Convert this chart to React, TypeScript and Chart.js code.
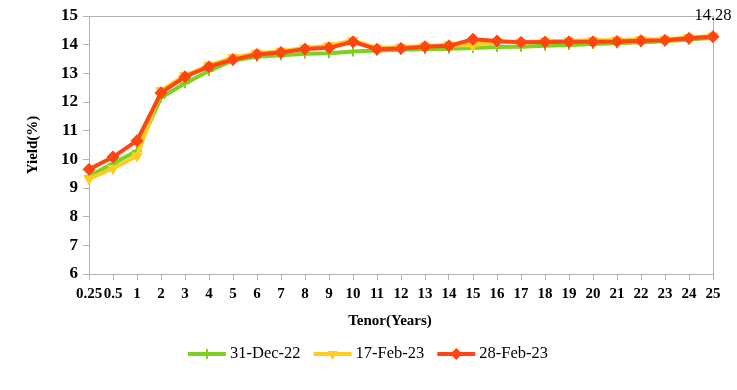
import React, { useEffect, useRef } from "react";
import { Chart, registerables } from "chart.js";

Chart.register(...registerables);

const tenors = ["0.25", "0.5", "1", "2", "3", "4", "5", "6", "7", "8", "9", "10", "11", "12", "13", "14", "15", "16", "17", "18", "19", "20", "21", "22", "23", "24", "25"];
const yTicks = [6, 7, 8, 9, 10, 11, 12, 13, 14, 15];

const dec31 = [9.42, 9.85, 10.3, 12.15, 12.65, 13.08, 13.45, 13.58, 13.63, 13.68, 13.7, 13.76, 13.8, 13.82, 13.84, 13.86, 13.88, 13.92, 13.93, 13.96, 13.99, 14.02, 14.05, 14.08, 14.12, 14.18, 14.24];
const feb17 = [9.32, 9.68, 10.12, 12.4, 12.92, 13.28, 13.55, 13.7, 13.77, 13.88, 13.96, 14.15, 13.88, 13.91, 13.95, 13.99, 13.98, 14.1, 14.07, 14.13, 14.13, 14.15, 14.16, 14.18, 14.19, 14.25, 14.3];
const feb28 = [9.65, 10.08, 10.65, 12.32, 12.88, 13.23, 13.48, 13.66, 13.73, 13.85, 13.89, 14.1, 13.84, 13.87, 13.93, 13.96, 14.19, 14.13, 14.08, 14.09, 14.1, 14.1, 14.11, 14.14, 14.15, 14.22, 14.28];

const seriesNames = ["31-Dec-22", "17-Feb-23", "28-Feb-23"];
const GREEN = "#80D022";
const YELLOW = "#FFCC22";
const RED = "#FF4612";
const AXIS = "#B3B3B3";
const FONT = "'Liberation Serif', 'Times New Roman', serif";

function drawMarker(ctx: CanvasRenderingContext2D, kind: string, x: number, y: number, color: string) {
  ctx.save();
  ctx.fillStyle = color;
  ctx.strokeStyle = color;
  ctx.beginPath();
  if (kind === "diamond") {
    const r = 6;
    ctx.moveTo(x, y - r);
    ctx.lineTo(x + r, y);
    ctx.lineTo(x, y + r);
    ctx.lineTo(x - r, y);
    ctx.closePath();
    ctx.fill();
  } else if (kind === "triangle") {
    const r = 6;
    ctx.moveTo(x - r * 0.87, y - r * 0.5);
    ctx.lineTo(x + r * 0.87, y - r * 0.5);
    ctx.lineTo(x, y + r);
    ctx.closePath();
    ctx.fill();
  } else {
    ctx.lineWidth = 2;
    ctx.moveTo(x, y - 5);
    ctx.lineTo(x, y + 5);
    ctx.moveTo(x - 5, y);
    ctx.lineTo(x + 5, y);
    ctx.stroke();
  }
  ctx.restore();
}

const decorPlugin = {
  id: "decor",
  beforeDatasetsDraw(chart: any) {
    const { ctx, chartArea } = chart;
    ctx.save();
    ctx.strokeStyle = AXIS;
    ctx.lineWidth = 1;
    ctx.beginPath();
    ctx.moveTo(chartArea.left, chartArea.top + 0.5);
    ctx.lineTo(chartArea.right + 0.5, chartArea.top + 0.5);
    ctx.lineTo(chartArea.right + 0.5, chartArea.bottom);
    ctx.stroke();
    ctx.restore();
  },
  afterDatasetsDraw(chart: any) {
    const { ctx } = chart;
    const meta = chart.getDatasetMeta(2);
    const pt = meta.data[meta.data.length - 1];
    const val = feb28[feb28.length - 1];
    ctx.save();
    ctx.fillStyle = "#000";
    ctx.font = `16.5px ${FONT}`;
    ctx.textAlign = "center";
    ctx.textBaseline = "middle";
    ctx.fillText(val.toFixed(2), pt.x, pt.y - 21);
    ctx.restore();
  },
  afterDraw(chart: any) {
    const { ctx } = chart;
    ctx.save();
    ctx.fillStyle = "#000";
    ctx.font = `bold 15px ${FONT}`;
    ctx.textAlign = "center";
    ctx.textBaseline = "middle";
    ctx.fillText("Tenor(Years)", 390, 321);
    const kinds = ["cross", "triangle", "diamond"];
    const colors = [GREEN, YELLOW, RED];
    ctx.font = `16.5px ${FONT}`;
    ctx.textAlign = "left";
    let x = 188;
    const y = 354;
    for (let i = 0; i < seriesNames.length; i++) {
      ctx.strokeStyle = colors[i];
      ctx.lineWidth = 4;
      ctx.beginPath();
      ctx.moveTo(x, y);
      ctx.lineTo(x + 38, y);
      ctx.stroke();
      drawMarker(ctx, kinds[i], x + 19, y, colors[i]);
      ctx.fillStyle = "#000";
      ctx.fillText(seriesNames[i], x + 42, y);
      x += 42 + ctx.measureText(seriesNames[i]).width + 13;
    }
    ctx.restore();
  },
};

export default function App() {
  const canvasRef = useRef<HTMLCanvasElement | null>(null);

  useEffect(() => {
    if (!canvasRef.current) return;
    const chart = new Chart(canvasRef.current, {
      type: "line",
      data: {
        labels: tenors,
        datasets: [
          {
            label: seriesNames[0],
            data: dec31,
            borderColor: GREEN,
            backgroundColor: GREEN,
            borderWidth: 4,
            pointStyle: "cross",
            pointRadius: 5,
            pointBorderWidth: 2,
            pointBorderColor: GREEN,
            order: 2,
            clip: false,
          },
          {
            label: seriesNames[1],
            data: feb17,
            borderColor: YELLOW,
            backgroundColor: YELLOW,
            borderWidth: 4,
            pointStyle: "triangle",
            pointRotation: 180,
            pointRadius: 6,
            pointBorderWidth: 1,
            order: 1,
            clip: false,
          },
          {
            label: seriesNames[2],
            data: feb28,
            borderColor: RED,
            backgroundColor: RED,
            borderWidth: 4,
            pointStyle: "rectRot",
            pointRadius: 6,
            pointBorderWidth: 1,
            order: 0,
            clip: false,
          },
        ],
      },
      options: {
        responsive: false,
        animation: false,
        layout: { padding: { left: 0, right: 24, top: 16, bottom: 60 } },
        plugins: {
          legend: { display: false },
          tooltip: { enabled: false },
        },
        scales: {
          x: {
            type: "category",
            offset: false,
            grid: { display: true, drawOnChartArea: false, drawTicks: true, tickLength: 6, color: AXIS },
            border: { display: true, color: AXIS },
            ticks: {
              autoSkip: false,
              maxRotation: 0,
              minRotation: 0,
              padding: 5,
              color: "#000",
              font: { family: FONT, size: 15, weight: "bold" },
            },
            afterFit: (s: any) => {
              s.height = 56;
            },
          },
          y: {
            min: 6,
            max: 15,
            afterBuildTicks: (s: any) => {
              s.ticks = yTicks.map((v) => ({ value: v }));
            },
            grid: { display: true, drawOnChartArea: false, drawTicks: true, tickLength: 6, color: AXIS },
            border: { display: true, color: AXIS },
            ticks: {
              padding: 5,
              color: "#000",
              font: { family: FONT, size: 17, weight: "bold" },
            },
            title: {
              display: true,
              text: "Yield(%)",
              color: "#000",
              font: { family: FONT, size: 15, weight: "bold" },
              padding: { top: 24, bottom: 0 },
            },
            afterFit: (s: any) => {
              s.width = 89;
            },
          },
        },
      },
      plugins: [decorPlugin],
    });
    return () => chart.destroy();
  }, []);

  return (
    <div style={{ position: "fixed", left: 0, top: 0, width: 737, height: 390, background: "#fff" }}>
      <canvas ref={canvasRef} width={737} height={390} style={{ display: "block" }} />
    </div>
  );
}
